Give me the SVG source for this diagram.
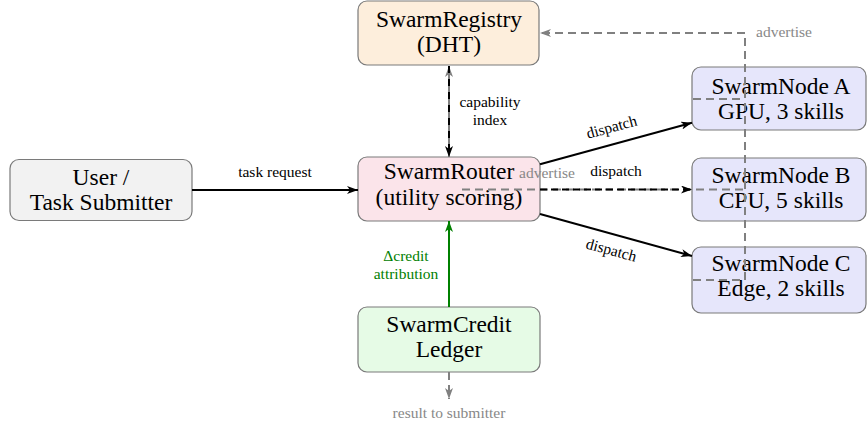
<svg xmlns="http://www.w3.org/2000/svg" width="867" height="427" viewBox="0 0 867 427">
<defs>
<style>
.box{stroke:#7a7a7a;stroke-width:1.2}
.nt{font-size:23.5px;fill:#000;text-anchor:middle}
.lb{font-size:15.5px;text-anchor:middle}
.blk{stroke:#000;stroke-width:2;fill:none}
.gry{stroke:#808080;stroke-width:2;fill:none;stroke-dasharray:8 5}
</style>
<marker id="ab" viewBox="0 0 11 8" refX="11" refY="4" markerWidth="11" markerHeight="8" markerUnits="userSpaceOnUse" orient="auto"><path d="M0,0 L11,4 L0,8 L3,4 z" fill="#000"/></marker>
<marker id="ag" viewBox="0 0 11 8" refX="11" refY="4" markerWidth="11" markerHeight="8" markerUnits="userSpaceOnUse" orient="auto"><path d="M0,0 L11,4 L0,8 L3,4 z" fill="#808080"/></marker>
<marker id="agr" viewBox="0 0 11 8" refX="11" refY="4" markerWidth="11" markerHeight="8" markerUnits="userSpaceOnUse" orient="auto"><path d="M0,0 L11,4 L0,8 L3,4 z" fill="#008000"/></marker>
</defs>
<rect width="867" height="427" fill="#fff"/>
<g font-family="'Liberation Serif', 'Times New Roman', serif">
<g id="user"><rect class="box" x="10" y="159.5" width="182" height="61" rx="9" fill="#f2f2f2"/><text class="nt" x="101" y="185">User /</text><text class="nt" x="101" y="210">Task Submitter</text></g>
<g id="registry"><rect class="box" x="358" y="1" width="181" height="64" rx="9" fill="#fdeedc"/><text class="nt" x="449" y="27">SwarmRegistry</text><text class="nt" x="449" y="52">(DHT)</text></g>
<g id="router"><rect class="box" x="358" y="157" width="182" height="64" rx="9" fill="#fbe4ea"/><text class="nt" x="449" y="179">SwarmRouter</text><text class="nt" x="449" y="205">(utility scoring)</text></g>
<g id="credit"><rect class="box" x="358" y="307" width="182" height="65" rx="9" fill="#e6fbe6"/><text class="nt" x="449" y="332">SwarmCredit</text><text class="nt" x="449" y="357">Ledger</text></g>
<g id="nodeA"><rect class="box" x="692" y="67" width="174" height="63" rx="9" fill="#e6e6fb"/><text class="nt" x="781" y="94">SwarmNode A</text><text class="nt" x="781" y="119">GPU, 3 skills</text></g>
<g id="nodeB"><rect class="box" x="692" y="158" width="174" height="63" rx="9" fill="#e6e6fb"/><text class="nt" x="781" y="183">SwarmNode B</text><text class="nt" x="781" y="208">CPU, 5 skills</text></g>
<g id="nodeC"><rect class="box" x="692" y="247" width="174" height="66" rx="9" fill="#e6e6fb"/><text class="nt" x="781" y="271">SwarmNode C</text><text class="nt" x="781" y="296">Edge, 2 skills</text></g>

<g id="connectors">
<line class="blk" x1="192" y1="190" x2="358" y2="190" marker-end="url(#ab)"/>
<text class="lb" x="275" y="177" fill="#000">task request</text>

<line class="gry" x1="449" y1="157" x2="449" y2="66" marker-end="url(#ag)"/>
<line class="blk" x1="449" y1="66" x2="449" y2="157" stroke-dasharray="7 6" marker-end="url(#ab)"/>
<text class="lb" x="490" y="107" fill="#000">capability</text>
<text class="lb" x="490" y="125" fill="#000">index</text>

<line class="blk" x1="540" y1="164.2" x2="692" y2="122.7" marker-end="url(#ab)"/>
<text class="lb" x="613" y="132" fill="#000" transform="rotate(-15.3 613 132)">dispatch</text>
<line class="blk" x1="540" y1="214" x2="692" y2="256" marker-end="url(#ab)"/>
<text class="lb" x="610" y="255" fill="#000" transform="rotate(15.3 610 255)">dispatch</text>

<path class="gry" d="M693,99 H745 M693,280 H745 M462,189.5 H745 M745,280 V33 H540" marker-end="url(#ag)"/>
<line class="blk" x1="540" y1="189.5" x2="692" y2="189.5" stroke-dasharray="7 4" marker-end="url(#ab)"/>
<text class="lb" x="616" y="176" fill="#000">dispatch</text>
<text class="lb" x="547" y="178" fill="#888">advertise</text>
<text class="lb" x="784" y="37" fill="#888">advertise</text>

<line x1="449" y1="307" x2="449" y2="221" stroke="#008000" stroke-width="2" marker-end="url(#agr)"/>
<text class="lb" x="406" y="261" fill="#008000">Δcredit</text>
<text class="lb" x="406" y="279" fill="#008000">attribution</text>

<line class="gry" x1="449" y1="372" x2="449" y2="399" marker-end="url(#ag)"/>
<text class="lb" x="449" y="418" fill="#888">result to submitter</text>
</g>
</g>
</svg>
